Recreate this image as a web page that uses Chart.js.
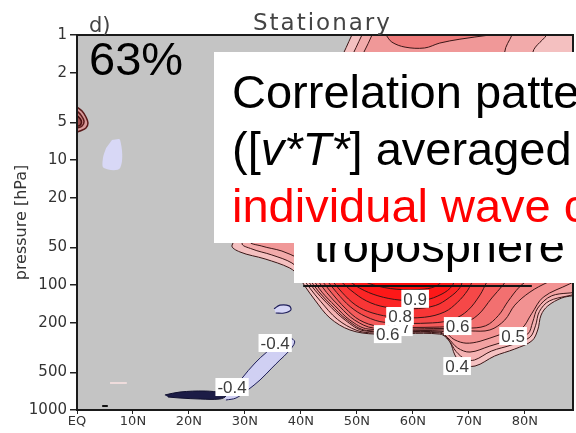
<!DOCTYPE html>
<html>
<head>
<meta charset="utf-8">
<script src="https://cdn.jsdelivr.net/npm/chart.js@4.4.1/dist/chart.umd.min.js"></script>
<style>
  html, body { margin: 0; padding: 0; background: #fff; width: 576px; height: 433px; overflow: hidden; }
  #wrap { position: relative; width: 576px; height: 433px; overflow: hidden; }
  #c { position: absolute; left: 0; top: 0; }
  .lbl { position: absolute; white-space: nowrap; }
  #panel { left: 89px; top: 15px; font: 21px/21px "DejaVu Sans", sans-serif; color: #444; }
  #title { left: 253px; top: 11px; font: 23px/23px "DejaVu Sans", sans-serif; color: #444; letter-spacing: 2px; }
  #pct { left: 89px; top: 35px; font: 47px/47px "Liberation Sans", Arial, sans-serif; color: #000; z-index: 2; }
  .note { font-family: "Liberation Sans", Arial, sans-serif; font-size: 47px; color: #000; }
  #box1 { position: absolute; left: 214px; top: 52px; width: 362px; height: 191px; background: #fff;
          z-index: 4; overflow: hidden; box-sizing: border-box; padding: 11px 0 0 18px; line-height: 57px; white-space: nowrap; }
  #box2 { position: absolute; left: 294px; top: 243px; width: 282px; height: 40px; background: #fff; z-index: 3; }
  #box2 span { position: absolute; left: 20px; top: -21px; line-height: 47px; white-space: nowrap; }
  .red { color: #ff0000; }
</style>
</head>
<body>
<div id="wrap">
  <canvas id="c" width="576" height="433"></canvas>
  <div id="panel" class="lbl">d)</div>
  <div id="title" class="lbl">Stationary</div>
  <div id="pct" class="lbl">63%</div>
  <div id="box2" class="note"><span>troposphere</span></div>
  <div id="box1" class="note">Correlation pattern<br>([<i>v*T*</i>] averaged<br><span class="red">individual wave components</span></div>
</div>
<script>
// Axis ticks
const latTicks = [0, 10, 20, 30, 40, 50, 60, 70, 80];
const pressureTicks = [1, 2, 5, 10, 20, 50, 100, 200, 500, 1000];

// Correlation contours, points as [latitude (deg N), pressure (hPa)]
// Tropospheric maximum below ~100 hPa
const tropo040 = [[39.8,88],[40.7,102],[42.5,132],[45.2,184],[48.75,229],[53.2,247],[64.8,247],[66.6,286],[67.5,363],[68.75,428],[71.1,445],[74.6,370],[78.2,325],[81.25,280],[82.3,229],[82.9,174],[84.1,147],[86.6,127],[90,115],[90,88]];
const tropo045 = [[40.3,88],[41.6,106],[43.5,135],[46.5,188],[50,231],[53,242],[64.8,242],[66.4,275],[67.7,340],[69.4,392],[71,398],[74,338],[77.8,300],[80.9,262],[81.9,212],[82.6,163],[84.4,134],[90,112],[90,88]];
const tropo050 = [[40.9,88],[42.5,110],[44.6,139],[47.9,191],[51.4,233],[64.8,238],[66.25,265],[68,319],[70.2,344],[73.75,308],[77.3,275],[80.5,247],[81.4,198],[82.3,153],[84.8,122],[90,110],[90,88]];
const tropo055 = [[41.4,88],[43.1,112],[45.3,143],[48.3,191],[51.7,231],[65.2,235],[67.5,275],[69.5,292],[72,282],[75.5,250],[79.3,225],[81.2,170],[83.3,125],[88,98],[90,88]];
const tropo060 = [[42,88],[43.75,114],[46.1,147],[48.75,191],[52,225],[65.7,229],[70.2,233],[73.75,229],[76.4,191],[78.2,145],[80.9,114],[84.1,95],[86.25,88]];
const tropo065 = [[42.7,88],[44.6,115],[47,150],[49.6,191],[53,221],[65.2,223],[69.5,222],[73,212],[75.3,175],[77,135],[79,104],[81,88]];
const tropo070 = [[43.4,88],[45.5,116],[47.9,153],[50.5,191],[53.75,213],[64.8,217],[68.75,205],[71.6,174],[74.1,127],[76.1,100],[77,88]];
const tropo075 = [[44.3,88],[46.4,115],[48.8,149],[51.6,179],[55,199],[63.5,201],[67.2,188],[69.8,160],[72,120],[73.2,95],[73.8,88]];
const tropo080 = [[45.2,88],[47.3,114],[49.8,145],[52.7,167],[56.8,181],[62.1,181],[65.7,164],[68,137],[69.8,110],[70.9,88]];
const tropo085 = [[46.5,88],[48.9,110],[51.7,134],[55,150],[60,155],[64,146],[66.5,126],[68.4,105],[69,88]];
const tropo090 = [[47.9,88],[50.5,106],[53.75,122],[57.7,132],[62.1,132],[65.2,118],[67,102],[67.5,88]];
const tropo095 = [[50,88],[53,100],[57,108],[62,108],[64.5,100],[65.5,88]];

// Stratospheric region above 100 hPa
const strato04 = [[49.1,1],[47,1.58],[39.8,5.75],[33,20.9],[27.7,47.9],[29.1,54.4],[33.6,61.9],[38,73.1],[39.8,85],[40.7,91],[90,91],[90,1]];
const strato05 = [[50.9,1],[48.75,1.58],[41.6,5.75],[34.8,20.9],[29.5,46.1],[31.25,51.5],[34.8,57.5],[38.4,66.7],[40.7,83.2],[42,91],[86.25,91],[86.25,8.3],[81.4,1.45],[83.9,1]];
const strato06 = [[52.7,1],[51.25,1.37],[43.4,5.75],[36.25,20.9],[30.9,44.5],[33,48.8],[36.6,53.5],[39.5,60.8],[43.4,73.1],[61.25,52.5],[75.5,8.3],[76.4,1.37],[77.7,1]];
const strato07 = [[55.2,1],[56.25,1.14],[58.6,1.25],[62.1,1.27],[64.8,1.16],[68.4,1.08],[73.75,1]];

// Small equatorial maximum near 5 hPa
const eqBump05 = [[0,3.77],[0.9,4.06],[1.6,4.53],[1.96,5.06],[1.6,5.55],[0.54,5.86],[0,5.97]];
const eqBump06 = [[0,4.06],[0.7,4.37],[1.25,4.88],[0.9,5.35],[0,5.55]];
const eqBump07 = [[0,4.4],[0.6,4.7],[0.8,5.0],[0.5,5.3],[0,5.35]];

// Negative correlations
const negStrat03 = [[6.25,6.92],[7.7,6.92],[7.7,11.6],[4.8,11.6],[4.64,9.64],[5.2,8.0]];
const negBand04 = [[25.9,787],[27.7,718],[29.5,555],[31.8,421],[33.9,344],[35.9,297],[38,266],[38.9,286],[37.7,344],[36.25,398],[34.8,462],[32.7,575],[30.5,692],[28.4,802],[26.6,832]];
const negLoop04 = [[35.2,155],[36.25,145],[37.9,147],[38.2,158.5],[37,167.5],[35.5,167.5]];
const negCore06 = [[15.7,758],[18.4,718],[22.9,705],[25.9,731],[26.6,773],[25.5,817],[22,817],[18.4,802],[16.25,787]];

// Straight segments drawn on the grid
const level100Line = [[40.4,102],[81.25,102]];
const smudgePink = [[5.9,608],[8.9,608]];
const smudgeDark = [[4.5,929],[5.5,929]];

// Contour labels: level and position
const contourLabels = [
  {level: 0.7, lat: 57.5, p: 217},
  {level: 0.6, lat: 55.5, p: 247},
  {level: 0.8, lat: 57.7, p: 177},
  {level: 0.9, lat: 60.4, p: 129},
  {level: 0.6, lat: 68.0, p: 213},
  {level: 0.5, lat: 77.9, p: 256},
  {level: 0.4, lat: 67.9, p: 445},
  {level: -0.4, lat: 35.4, p: 291},
  {level: -0.4, lat: 27.7, p: 655}
];

// Shading per level
const redFill = {
  0.4: '#f5c2c2', 0.45: '#f4b2b2', 0.5: '#f3a2a2', 0.55: '#f29292', 0.6: '#f18282', 0.65: '#f27070',
  0.7: '#f45c5c', 0.75: '#f64848', 0.8: '#f83636', 0.85: '#fb2626', 0.9: '#fd1818', 0.95: '#ff0a0a'
};
const stratoFill = {0.4: '#f4c0c0', 0.5: '#f2aaaa', 0.6: '#f09898', 0.7: '#ee7a7a'};
const redLine = '#3a1616';
const blueLine = '#1e1e5a';

const contours = [
  {pts: tropo040, level: 0.4}, {pts: tropo045, level: 0.45}, {pts: tropo050, level: 0.5},
  {pts: tropo055, level: 0.55}, {pts: tropo060, level: 0.6}, {pts: tropo065, level: 0.65},
  {pts: tropo070, level: 0.7}, {pts: tropo075, level: 0.75}, {pts: tropo080, level: 0.8},
  {pts: tropo085, level: 0.85}, {pts: tropo090, level: 0.9}, {pts: tropo095, level: 0.95},
  {pts: strato04, level: 0.4, fill: stratoFill[0.4]}, {pts: strato05, level: 0.5, fill: stratoFill[0.5]},
  {pts: strato06, level: 0.6, fill: stratoFill[0.6]}, {pts: strato07, level: 0.7, fill: stratoFill[0.7]},
  {pts: eqBump05, level: 0.5, fill: '#d99a9a', line: '#5a1a1a', width: 1.5},
  {pts: eqBump06, level: 0.6, fill: '#c98080', line: '#5a1a1a', width: 1.5},
  {pts: eqBump07, level: 0.7, fill: '#a05050', line: '#4a1010', width: 1.5},
  {pts: negStrat03, level: -0.3, fill: '#d8d8f6', line: 'rgba(0,0,0,0)', width: 0},
  {pts: negBand04, level: -0.4, fill: '#d0d0f3', line: blueLine, width: 1},
  {pts: negLoop04, level: -0.4, fill: '#d6d6f6', line: blueLine, width: 1.2},
  {pts: negCore06, level: -0.6, fill: '#1c1c46', line: '#10102e', width: 1}
];

const toXY = pts => pts.map(([x, y]) => ({x, y}));

const datasets = contours.map(c => ({
  data: toXY(c.pts),
  showLine: true,
  fill: 'shape',
  backgroundColor: c.fill || redFill[c.level],
  borderColor: c.line || redLine,
  borderWidth: c.width !== undefined ? c.width : 1,
  pointRadius: 0,
  tension: 0.35,
  order: 100 - Math.round(Math.abs(c.level) * 100)
}));

const segment = (pts, color, width) => ({
  data: toXY(pts), showLine: true, fill: false, borderColor: color,
  borderWidth: width, pointRadius: 0, tension: 0, order: 0
});
datasets.push(segment(level100Line, '#141414', 2));
datasets.push(segment(smudgePink, '#efdcdc', 2));
datasets.push(segment(smudgeDark, '#111111', 2));

// Gray plot background, frame and contour labels
const plotDecor = {
  id: 'plotDecor',
  beforeDatasetsDraw(chart) {
    const {ctx, chartArea: a} = chart;
    ctx.save();
    ctx.fillStyle = '#c4c4c4';
    ctx.fillRect(a.left, a.top, a.width, a.height);
    ctx.restore();
  },
  afterDatasetsDraw(chart) {
    const {ctx, chartArea: a, scales} = chart;
    ctx.save();
    ctx.strokeStyle = '#1a1a1a';
    ctx.lineWidth = 2;
    ctx.strokeRect(a.left, a.top, a.width, a.height);
    ctx.font = '17px "Liberation Sans", Arial, sans-serif';
    ctx.textAlign = 'center';
    ctx.textBaseline = 'middle';
    contourLabels.forEach(l => {
      const x = scales.x.getPixelForValue(l.lat);
      const y = scales.y.getPixelForValue(l.p);
      const txt = l.level.toFixed(1);
      const w = ctx.measureText(txt).width;
      ctx.fillStyle = '#ffffff';
      ctx.fillRect(x - w / 2 - 2, y - 9, w + 4, 18);
      ctx.fillStyle = '#3c3c3c';
      ctx.fillText(txt, x, y + 1);
    });
    ctx.restore();
  }
};

new Chart(document.getElementById('c'), {
  type: 'scatter',
  data: {datasets},
  plugins: [plotDecor],
  options: {
    responsive: false,
    animation: false,
    devicePixelRatio: 1,
    layout: {padding: {top: 35, right: 3, left: 0, bottom: 0}},
    plugins: {legend: {display: false}, tooltip: {enabled: false}},
    scales: {
      x: {
        type: 'linear', min: 0, max: 88.6,
        afterBuildTicks(s) { s.ticks = latTicks.map(v => ({value: v})); },
        afterFit(s) { s.height = 23; },
        ticks: {
          callback: v => (v === 0 ? 'EQ' : v + 'N'),
          font: {family: 'DejaVu Sans', size: 13}, color: '#333',
          padding: 0, maxRotation: 0, autoSkip: false
        },
        grid: {drawOnChartArea: false, tickLength: 4, color: '#222'},
        border: {display: false}
      },
      y: {
        type: 'logarithmic', reverse: true, min: 1, max: 1000,
        afterBuildTicks(s) { s.ticks = pressureTicks.map(v => ({value: v})); },
        afterFit(s) { s.width = 77; },
        ticks: {
          callback: v => String(v),
          font: {family: 'DejaVu Sans', size: 15}, color: '#333',
          padding: 3, autoSkip: false
        },
        grid: {drawOnChartArea: false, tickLength: 7, color: '#222', lineWidth: 1.5},
        border: {display: false},
        title: {
          display: true, text: 'pressure [hPa]',
          font: {family: 'DejaVu Sans', size: 16}, color: '#333',
          padding: {top: 12, bottom: 0}
        }
      }
    }
  }
});
</script>
</body>
</html>
